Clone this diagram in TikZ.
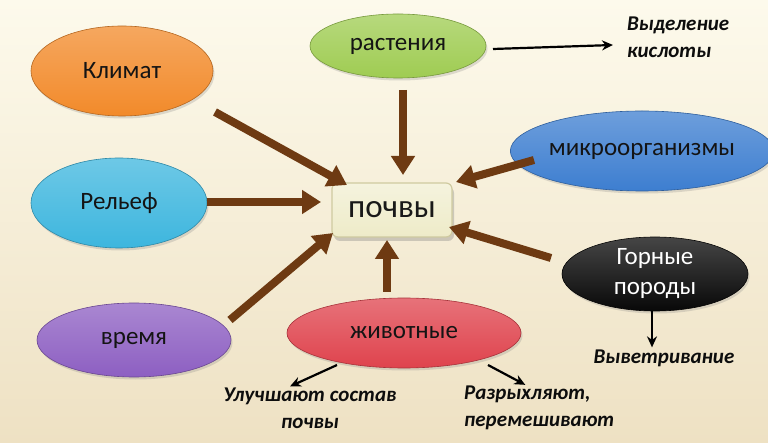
\documentclass[tikz,border=0pt]{standalone}
\usepackage{fontspec}
\setmainfont{Carlito}
\usetikzlibrary{shapes.geometric,arrows.meta,shadows}

\definecolor{bgtop}{HTML}{FDFAEC}
\definecolor{bgbot}{HTML}{EEE1C3}
\definecolor{corange}{HTML}{F28A2A}
\definecolor{ccyan}{HTML}{3DB6DE}
\definecolor{cpurple}{HTML}{8D5FC2}
\definecolor{cgreen}{HTML}{9FCC52}
\definecolor{cred}{HTML}{DF434D}
\definecolor{cblue}{HTML}{3D7ED0}
\definecolor{cblack}{HTML}{080808}
\definecolor{arrowbrown}{HTML}{6E3A12}
\definecolor{boxfill}{HTML}{EEEBC8}
\definecolor{boxline}{HTML}{CFCAA0}

\begin{document}
\begin{tikzpicture}[x=1pt,y=-1pt,
  bubble/.style={ellipse, inner sep=0pt, draw=#1!75!black, line width=0.6pt,
    top color=#1!75!white, bottom color=#1,
    font=\fontsize{25}{30}\selectfont, text=black!92, align=center,
    drop shadow={opacity=0.25,shadow xshift=1.5pt,shadow yshift=-2.5pt}},
  brarrow/.style={draw=arrowbrown, line width=8pt, -{Triangle[width=23pt,length=19pt]}},
  thinarrow/.style={draw=black, line width=2.2pt, -{Stealth[length=11pt,width=10pt]}},
  lbl/.style={font=\fontsize{21}{27}\selectfont\bfseries\itshape, inner sep=0pt, text=black!95}]

\useasboundingbox (0,0) rectangle (768,443);
\fill[top color=bgtop, bottom color=bgbot] (0,0) rectangle (768,443);

% nodes
\node[bubble=corange, minimum width=182pt, minimum height=90pt] (klimat) at (122,71) {Климат};
\node[bubble=ccyan, minimum width=176pt, minimum height=90pt] (relief) at (119,203) {Рельеф};
\node[bubble=cpurple, minimum width=194pt, minimum height=74pt] (vremya) at (134,340) {время};
\node[bubble=cgreen, minimum width=176pt, minimum height=64pt] (rastenia) at (398,46) {растения};
\node[bubble=cred, minimum width=234pt, minimum height=70pt] (zhiv) at (404,333) {животные};
\node[bubble=cblue, minimum width=214pt, minimum height=80pt] (mikro) at (642,151) {микроорганизмы};
\node[bubble=cblack, minimum width=186pt, minimum height=74pt, text=white] (gornye) at (655,274) {Горные\\породы};

\node[rectangle, rounded corners=6pt, minimum width=120pt, minimum height=54pt,
  inner sep=0pt, top color=boxfill!60!white, bottom color=boxfill, draw=boxline, line width=1.2pt,
  font=\fontsize{33}{36}\selectfont, text=black!90,
  drop shadow={opacity=0.35,shadow xshift=2pt,shadow yshift=-4pt}] (pochvy) at (392,210) {почвы};

% labels
\node[lbl, align=left, anchor=west] (vydel) at (627,37) {Выделение\\кислоты};
\node[lbl] (vyvetr) at (664,358) {Выветривание};
\node[lbl, align=center] (uluch) at (310,408) {Улучшают состав\\почвы};
\node[lbl, align=left, anchor=west] (razr) at (464,408) {Разрыхляют,\\перемешивают};

% brown arrows
\draw[brarrow] ([shift={(93,41)}]klimat.center) -- ([shift={(-45,-25)}]pochvy.center);
\draw[brarrow] ([shift={(5,44)}]rastenia.center) -- ([shift={(11,-35)}]pochvy.center);
\draw[brarrow] ([shift={(-108,9)}]mikro.center) -- ([shift={(64,-28)}]pochvy.center);
\draw[brarrow] ([shift={(88,-1)}]relief.center) -- ([shift={(-71,-8)}]pochvy.center);
\draw[brarrow] ([shift={(-104,-16)}]gornye.center) -- ([shift={(57,17)}]pochvy.center);
\draw[brarrow] ([shift={(96,-20)}]vremya.center) -- ([shift={(-59,23)}]pochvy.center);
\draw[brarrow] ([shift={(-17,-41)}]zhiv.center) -- ([shift={(-5,30)}]pochvy.center);

% thin arrows
\draw[thinarrow] ([shift={(95,3)}]rastenia.center) -- ([shift={(-14,8)}]vydel.west);
\draw[thinarrow] ([shift={(-3,0)}]gornye.south) -- ([shift={(-12,-2)}]vyvetr.north);
\draw[thinarrow] ([shift={(-67,32)}]zhiv.center) -- ([shift={(-20,-1)}]uluch.north);
\draw[thinarrow] ([shift={(84,32)}]zhiv.center) -- ([shift={(-14,-1)}]razr.north);
\end{tikzpicture}
\end{document}
